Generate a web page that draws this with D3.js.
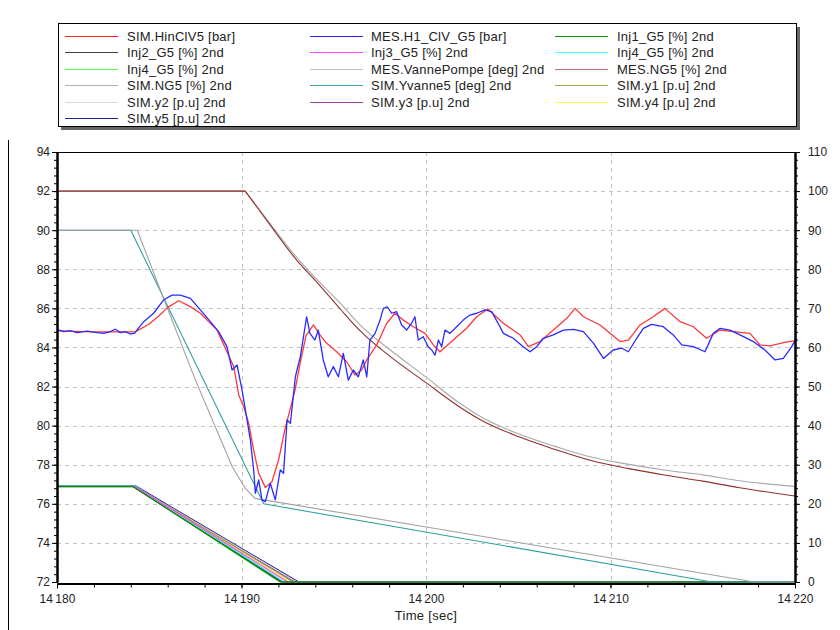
<!DOCTYPE html>
<html><head><meta charset="utf-8">
<script src="https://cdn.jsdelivr.net/npm/d3@7"></script>
<style>body{margin:0;background:#fff}svg{display:block}text{font-family:"Liberation Sans",Arial,sans-serif;fill:#222}</style>
</head><body><svg id="c" width="840" height="630"></svg>
<script>
// ---------- data ----------
const xTicks = [14180, 14190, 14200, 14210, 14220];
const leftTicks = [72, 74, 76, 78, 80, 82, 84, 86, 88, 90, 92, 94];
const rightTicks = [0, 10, 20, 30, 40, 50, 60, 70, 80, 90, 100, 110];

const simHinClV5 = [[14180,84.85],[14182,84.8],[14184.24,84.8],[14185.0,85.2],[14185.5,85.6],[14186.0,86.05],[14186.6,86.39],[14187.2,86.1],[14187.77,85.75],[14188.67,84.9],[14189.21,83.78],[14189.58,83.02],[14189.85,81.57],[14190.12,80.97],[14190.39,80.12],[14190.66,78.75],[14190.93,77.56],[14191.29,76.84],[14191.65,77.13],[14192.01,78.24],[14192.35,79.8],[14192.9,81.8],[14193.2,83.3],[14193.5,84.6],[14193.9,85.15],[14194.25,84.64],[14194.62,84.21],[14195.16,83.78],[14195.7,83.27],[14196.15,82.59],[14196.51,82.85],[14196.79,83.36],[14197.33,84.13],[14197.87,85.24],[14198.32,85.75],[14198.77,85.4],[14199.31,85.06],[14199.95,84.72],[14200.4,84.13],[14200.76,83.78],[14201.48,84.38],[14202.2,84.98],[14202.75,85.57],[14203.35,85.97],[14204.19,85.24],[14205.1,84.64],[14205.55,84.04],[14206.18,84.3],[14206.9,84.89],[14207.63,85.49],[14208.08,86.0],[14208.53,85.57],[14209.43,85.15],[14210.52,84.3],[14210.97,84.38],[14211.6,85.15],[14212.32,85.57],[14212.95,86.0],[14213.77,85.32],[14214.49,85.06],[14215.21,84.47],[14215.94,84.89],[14216.66,84.81],[14217.56,84.72],[14218.1,84.13],[14218.65,84.08],[14219.37,84.25],[14220,84.35]];

const mesH1ClVG5 = [[14180,84.93],[14180.36,84.81],[14180.72,84.86],[14181.08,84.76],[14181.63,84.84],[14182.17,84.76],[14182.53,84.72],[14182.89,84.81],[14183.16,84.93],[14183.43,84.76],[14183.7,84.81],[14183.97,84.69],[14184.19,84.72],[14184.7,85.32],[14185.24,85.75],[14185.78,86.43],[14186.23,86.68],[14186.68,86.68],[14187.23,86.51],[14187.77,85.92],[14188.31,85.32],[14188.76,84.81],[14189.21,84.04],[14189.49,82.85],[14189.76,83.1],[14190.03,81.82],[14190.3,80.29],[14190.48,79.27],[14190.66,77.73],[14190.75,76.54],[14190.93,77.22],[14191.11,76.2],[14191.29,76.11],[14191.56,77.05],[14191.83,76.2],[14192.1,77.73],[14192.28,77.56],[14192.47,80.29],[14192.65,80.12],[14192.92,82.5],[14193.19,83.53],[14193.53,85.57],[14193.71,84.72],[14193.98,84.38],[14194.16,84.89],[14194.43,83.36],[14194.7,82.5],[14194.98,83.02],[14195.25,82.5],[14195.52,83.7],[14195.79,82.33],[14196.06,82.85],[14196.33,82.5],[14196.6,83.36],[14196.79,82.5],[14196.96,84.38],[14197.24,84.72],[14197.51,85.4],[14197.69,86.0],[14197.9,86.08],[14198.14,85.75],[14198.41,85.83],[14198.68,85.15],[14198.95,84.89],[14199.22,85.24],[14199.4,85.57],[14199.58,84.38],[14199.85,84.55],[14200.12,84.04],[14200.31,83.87],[14200.49,83.61],[14200.67,84.38],[14200.85,84.04],[14201.03,84.89],[14201.3,84.72],[14201.66,85.06],[14202.02,85.4],[14202.38,85.66],[14202.75,85.75],[14203.2,85.92],[14203.56,85.83],[14204.01,85.06],[14204.19,84.72],[14204.73,84.47],[14205.27,84.04],[14205.64,83.78],[14206.0,84.04],[14206.36,84.47],[14206.9,84.64],[14207.45,84.89],[14207.99,84.93],[14208.53,84.81],[14209.08,84.21],[14209.62,83.44],[14210.15,83.87],[14210.61,83.96],[14210.97,83.78],[14211.42,84.47],[14211.78,84.98],[14212.23,85.18],[14212.86,85.06],[14213.4,84.64],[14213.86,84.13],[14214.49,84.04],[14215.12,83.78],[14215.57,84.72],[14215.94,84.98],[14216.48,84.89],[14217.02,84.64],[14217.74,84.3],[14218.37,83.87],[14218.92,83.36],[14219.37,83.44],[14219.82,84.04],[14220,84.35]];

const inj1 = [[14180,24.5],[14184.1,24.5],[14192.1,0],[14220,0]];
const inj2 = [[14180,24.4],[14184.1,24.4],[14192.2,0],[14220,0]];
const inj3 = [[14180,24.5],[14184.2,24.5],[14192.5,0],[14220,0]];
const inj4a = [[14180,24.6],[14184.2,24.6],[14192.3,0],[14220,0]];
const inj4b = [[14180,24.4],[14184.15,24.4],[14192.15,0],[14220,0]];
const mesVannePompe = [[14180,90],[14184.35,90],[14185.6,74.7],[14187.5,51.7],[14189.5,29.5],[14190.2,24],[14190.73,21.4],[14217.8,0],[14220,0]];
const mesNG5 = [[14180,100],[14190.2,100],[14191.4,92.3],[14193,82.3],[14194.07,76.8],[14195.34,69.9],[14196.42,64.3],[14198,57.9],[14200,51.0],[14201.66,45.3],[14203,41.4],[14205,37.2],[14207,33.9],[14209,31.0],[14211,29.0],[14213,27.3],[14215,25.8],[14217,24.1],[14220,22]];
const simNG5 = [[14180,100],[14190.2,100],[14191.4,92.6],[14193,83.0],[14194.25,76.6],[14195.34,71.4],[14196.42,65.8],[14198,59.6],[14200,52.4],[14201.66,46.3],[14203,42.2],[14205,37.9],[14207,34.7],[14209,31.9],[14211,30.1],[14213,28.6],[14215,27.4],[14217,25.9],[14220,24.4]];
const simYvanne5 = [[14180,90],[14184.0,90],[14191.2,20],[14215.5,0],[14220,0]];
const simY1 = [[14180,24.5],[14184.2,24.5],[14192.8,0],[14220,0]];
const simY2 = [[14180,24.5],[14184.2,24.5],[14193.0,0],[14220,0]];
const simY3 = [[14180,24.5],[14184.2,24.5],[14192.9,0],[14220,0]];
const simY4 = [[14180,24.5],[14184.2,24.5],[14192.6,0],[14220,0]];
const simY5 = [[14180,24.6],[14184.25,24.6],[14193.1,0],[14220,0]];

const seriesNames = ["SIM.HinClV5 [bar]","MES.H1_ClV_G5 [bar]","Inj1_G5 [%] 2nd","Inj2_G5 [%] 2nd","Inj3_G5 [%] 2nd","Inj4_G5 [%] 2nd","Inj4_G5 [%] 2nd","MES.VannePompe [deg] 2nd","MES.NG5 [%] 2nd","SIM.NG5 [%] 2nd","SIM.Yvanne5 [deg] 2nd","SIM.y1 [p.u] 2nd","SIM.y2 [p.u] 2nd","SIM.y3 [p.u] 2nd","SIM.y4 [p.u] 2nd","SIM.y5 [p.u] 2nd"];
const seriesData = [simHinClV5, mesH1ClVG5, inj1, inj2, inj3, inj4a, inj4b, mesVannePompe, mesNG5, simNG5, simYvanne5, simY1, simY2, simY3, simY4, simY5];
const seriesAxis = ["L","L","R","R","R","R","R","R","R","R","R","R","R","R","R","R"];
const seriesSmooth = [false,false,false,false,false,false,false,false,true,true,false,false,false,false,false,false];
const seriesColors = ["#ff3838","#2a2aff","#009a00","#404040","#ff40ff","#20f0f0","#40f040","#a0a0a0","#903030","#a8a8a8","#30a0a0","#a0a040","#d4d4d4","#902090","#f0f020","#1a1a90"];
const legendColors = ["#ff2020","#2020ff","#00a000","#404040","#ff40ff","#40ffff","#50ff50","#c0c0c0","#c07070","#b0b0b0","#40a8a8","#a8a850","#d8d8d8","#a040a0","#ffff40","#202090"];

// ---------- layout ----------
const svg = d3.select("#c");
const X0 = 57, X1 = 795, Y0 = 152, Y1 = 582;
const x = d3.scaleLinear().domain([14180, 14220]).range([X0, X1]);
const yL = d3.scaleLinear().domain([72, 94]).range([Y1, Y0]);
const yR = d3.scaleLinear().domain([0, 110]).range([Y1, Y0]);

// outer frame line
svg.append("line").attr("x1",8.5).attr("x2",8.5).attr("y1",140).attr("y2",630).attr("stroke","#000");

// legend
const lg = svg.append("g");
lg.append("rect").attr("x",61).attr("y",27).attr("width",739).attr("height",103).attr("fill","#666");
lg.append("rect").attr("x",58.5).attr("y",23.5).attr("width",738).attr("height",103).attr("fill","#fff").attr("stroke","#000");
const colLine = [65, 310, 555], colText = [127, 371, 617];
seriesNames.forEach((n, i) => {
  const c = i % 3, r = Math.floor(i / 3);
  const yy = Math.round(36 + r * 16.4) + 0.5;
  lg.append("line").attr("x1", colLine[c]).attr("x2", colLine[c] + 53).attr("y1", yy).attr("y2", yy).attr("stroke", legendColors[i]).attr("stroke-width", 1.2);
  lg.append("text").attr("x", colText[c]).attr("y", yy + 4.5).attr("font-size", 13).attr("letter-spacing", 0.25).text(n);
});

// grid
const grid = svg.append("g").attr("stroke", "#c4c4c4").attr("stroke-dasharray", "4,4").attr("stroke-width", 1);
leftTicks.filter(v => v > 72 && v < 94).forEach(v => {
  grid.append("line").attr("x1", X0).attr("x2", X1).attr("y1", Math.round(yL(v)) + 0.5).attr("y2", Math.round(yL(v)) + 0.5);
});
xTicks.filter(v => v > 14180 && v < 14220).forEach(v => {
  grid.append("line").attr("y1", Y0).attr("y2", Y1).attr("x1", Math.round(x(v)) + 0.5).attr("x2", Math.round(x(v)) + 0.5);
});

// series (right axis first, then left)
const plot = svg.append("g");
const order = [15,14,13,12,11,6,5,4,3,2,10,7,9,8,0,1];
order.forEach(i => {
  const ys = seriesAxis[i] === "L" ? yL : yR;
  const lin = d3.line().x(d => x(d[0])).y(d => ys(d[1]));
  const sw = i < 2 ? 1.3 : 1.1;
  const parts = seriesSmooth[i]
    ? [[seriesData[i].slice(0, 2), d3.curveLinear], [seriesData[i].slice(1), d3.curveMonotoneX]]
    : [[seriesData[i], d3.curveLinear]];
  parts.forEach(([pts, cv]) => {
    plot.append("path").attr("d", lin.curve(cv)(pts)).attr("fill", "none")
      .attr("stroke", seriesColors[i]).attr("stroke-width", sw).attr("stroke-linejoin", "round");
  });
});

// top frame
svg.append("line").attr("x1", X0).attr("x2", X1).attr("y1", Y0 + 0.5).attr("y2", Y0 + 0.5).attr("stroke", "#000");

// axes
const fmtX = d => `${Math.floor(d / 1000)}\u2009${String(d % 1000).padStart(3, "0")}`;
function styleAxis(g) {
  g.select(".domain").attr("stroke", "#000").attr("stroke-width", 2);
  g.selectAll(".tick line").attr("stroke", "#000");
  g.selectAll(".tick text").attr("font-size", 12).attr("fill", "#222").attr("font-family", "Liberation Sans, Arial, sans-serif");
}
const leftMinor = d3.range(72, 94.001, 0.4);
svg.append("g").attr("transform", `translate(${X0},0)`)
  .call(d3.axisLeft(yL).tickValues(leftMinor).tickSize(3).tickFormat("").tickSizeOuter(0)).call(styleAxis);
svg.append("g").attr("transform", `translate(${X0},0)`)
  .call(d3.axisLeft(yL).tickValues(leftTicks).tickSize(5).tickPadding(2).tickSizeOuter(0)).call(styleAxis);

const rightMinor = d3.range(0, 110.001, 2);
svg.append("g").attr("transform", `translate(${X1},0)`)
  .call(d3.axisRight(yR).tickValues(rightMinor).tickSize(3).tickFormat("").tickSizeOuter(0)).call(styleAxis);
svg.append("g").attr("transform", `translate(${X1},0)`)
  .call(d3.axisRight(yR).tickValues(rightTicks).tickSize(5).tickPadding(8).tickSizeOuter(0)).call(styleAxis);

const xMinor = d3.range(14180, 14220.001, 2);
svg.append("g").attr("transform", `translate(0,${Y1 + 1.5})`)
  .call(d3.axisBottom(x).tickValues(xMinor).tickSize(4).tickFormat("").tickSizeOuter(0)).call(styleAxis);
svg.append("g").attr("transform", `translate(0,${Y1 + 1.5})`)
  .call(d3.axisBottom(x).tickValues(xTicks).tickSize(5).tickPadding(6).tickFormat(fmtX).tickSizeOuter(0)).call(styleAxis);

svg.append("text").attr("x", (X0 + X1) / 2).attr("y", 620).attr("text-anchor", "middle").attr("font-size", 13).attr("letter-spacing", 0.3).text("Time [sec]");
</script></body></html>
